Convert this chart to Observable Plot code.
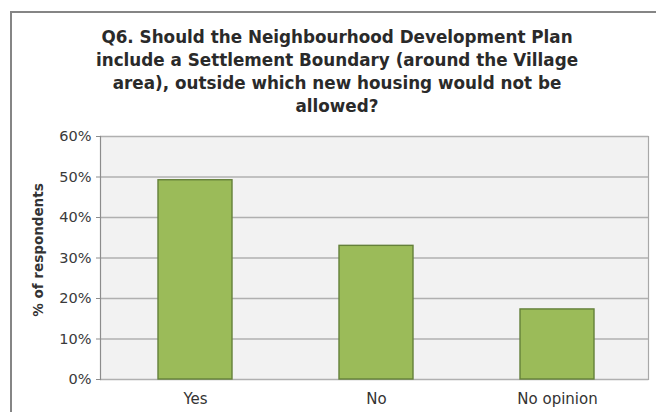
<!DOCTYPE html>
<html>
<head>
<meta charset="utf-8">
<script src="https://cdn.jsdelivr.net/npm/d3@7"></script>
<script src="https://cdn.jsdelivr.net/npm/@observablehq/plot@0.6"></script>
<style>
  html, body { margin: 0; padding: 0; background: #fff; width: 656px; height: 412px; overflow: hidden; }
  #frame { position: absolute; left: 10px; top: 11px; width: 700px; height: 440px; border: 2px solid #858585; box-sizing: border-box; }
  #title { position: absolute; top: 26px; left: 9px; width: 656px; text-align: center;
           font: bold 16.8px "DejaVu Sans", sans-serif; line-height: 23px; color: #2a2a2a; }
  #chart { position: absolute; left: 0; top: 0; }
</style>
</head>
<body>
<div id="frame"></div>
<div id="title">Q6. Should the Neighbourhood Development Plan<br>include a Settlement Boundary (around the Village<br>area), outside which new housing would not be<br>allowed?</div>
<div id="chart"></div>
<script>
const categories = ["Yes", "No", "No opinion"];
const values = [49.2, 33.0, 17.3];
const yTicks = [0, 10, 20, 30, 40, 50, 60];

const data = categories.map((c, i) => ({category: c, value: values[i]}));

const plot = Plot.plot({
  width: 656,
  height: 412,
  marginTop: 136,
  marginBottom: 33,
  marginLeft: 100,
  marginRight: 8,
  style: {fontFamily: "'DejaVu Sans', sans-serif", fontSize: "14.5px", color: "#3a3a3a", background: "transparent"},
  x: {domain: categories, paddingInner: 0.593, paddingOuter: 0.296, insetLeft: 3, label: null},
  y: {domain: [0, 60], ticks: yTicks, label: null},
  marks: [
    Plot.frame({fill: "#f2f2f2", stroke: "none"}),
    Plot.gridY(yTicks, {stroke: "#b0b0b0", strokeOpacity: 1, strokeWidth: 1.6}),
    Plot.frame({anchor: "left", stroke: "#8c8c8c", strokeWidth: 1.2}),
    Plot.frame({anchor: "right", stroke: "#a8a8a8", strokeWidth: 1.2}),
    Plot.barY(data, {x: "category", y: "value", fill: "#9bbb59", stroke: "#64803a", strokeWidth: 1.4}),
    Plot.axisY(yTicks, {tickSize: 4, tickPadding: 5, tickFormat: d => d + "%", stroke: "#8c8c8c", fill: "#3a3a3a", fontSize: 14.5,
      label: "% of respondents", labelAnchor: "center", labelOffset: 67, labelArrow: "none"}),
    Plot.axisX({tickSize: 0, tickPadding: 14, fill: "#333", fontSize: 15, label: null})
  ]
});
plot.querySelectorAll("g[aria-label='y-axis label'] text, g[aria-label='y-axis label']").forEach(el => {
  el.setAttribute("font-weight", "bold");
  el.setAttribute("font-size", "13.5");
  el.setAttribute("fill", "#333");
});
const lbl = plot.querySelector("g[aria-label='y-axis label']");
if (lbl) {
  const prev = lbl.getAttribute("transform") || "";
  lbl.setAttribute("transform", "translate(0,-8) " + prev);
}
document.getElementById("chart").appendChild(plot);
</script>
</body>
</html>
